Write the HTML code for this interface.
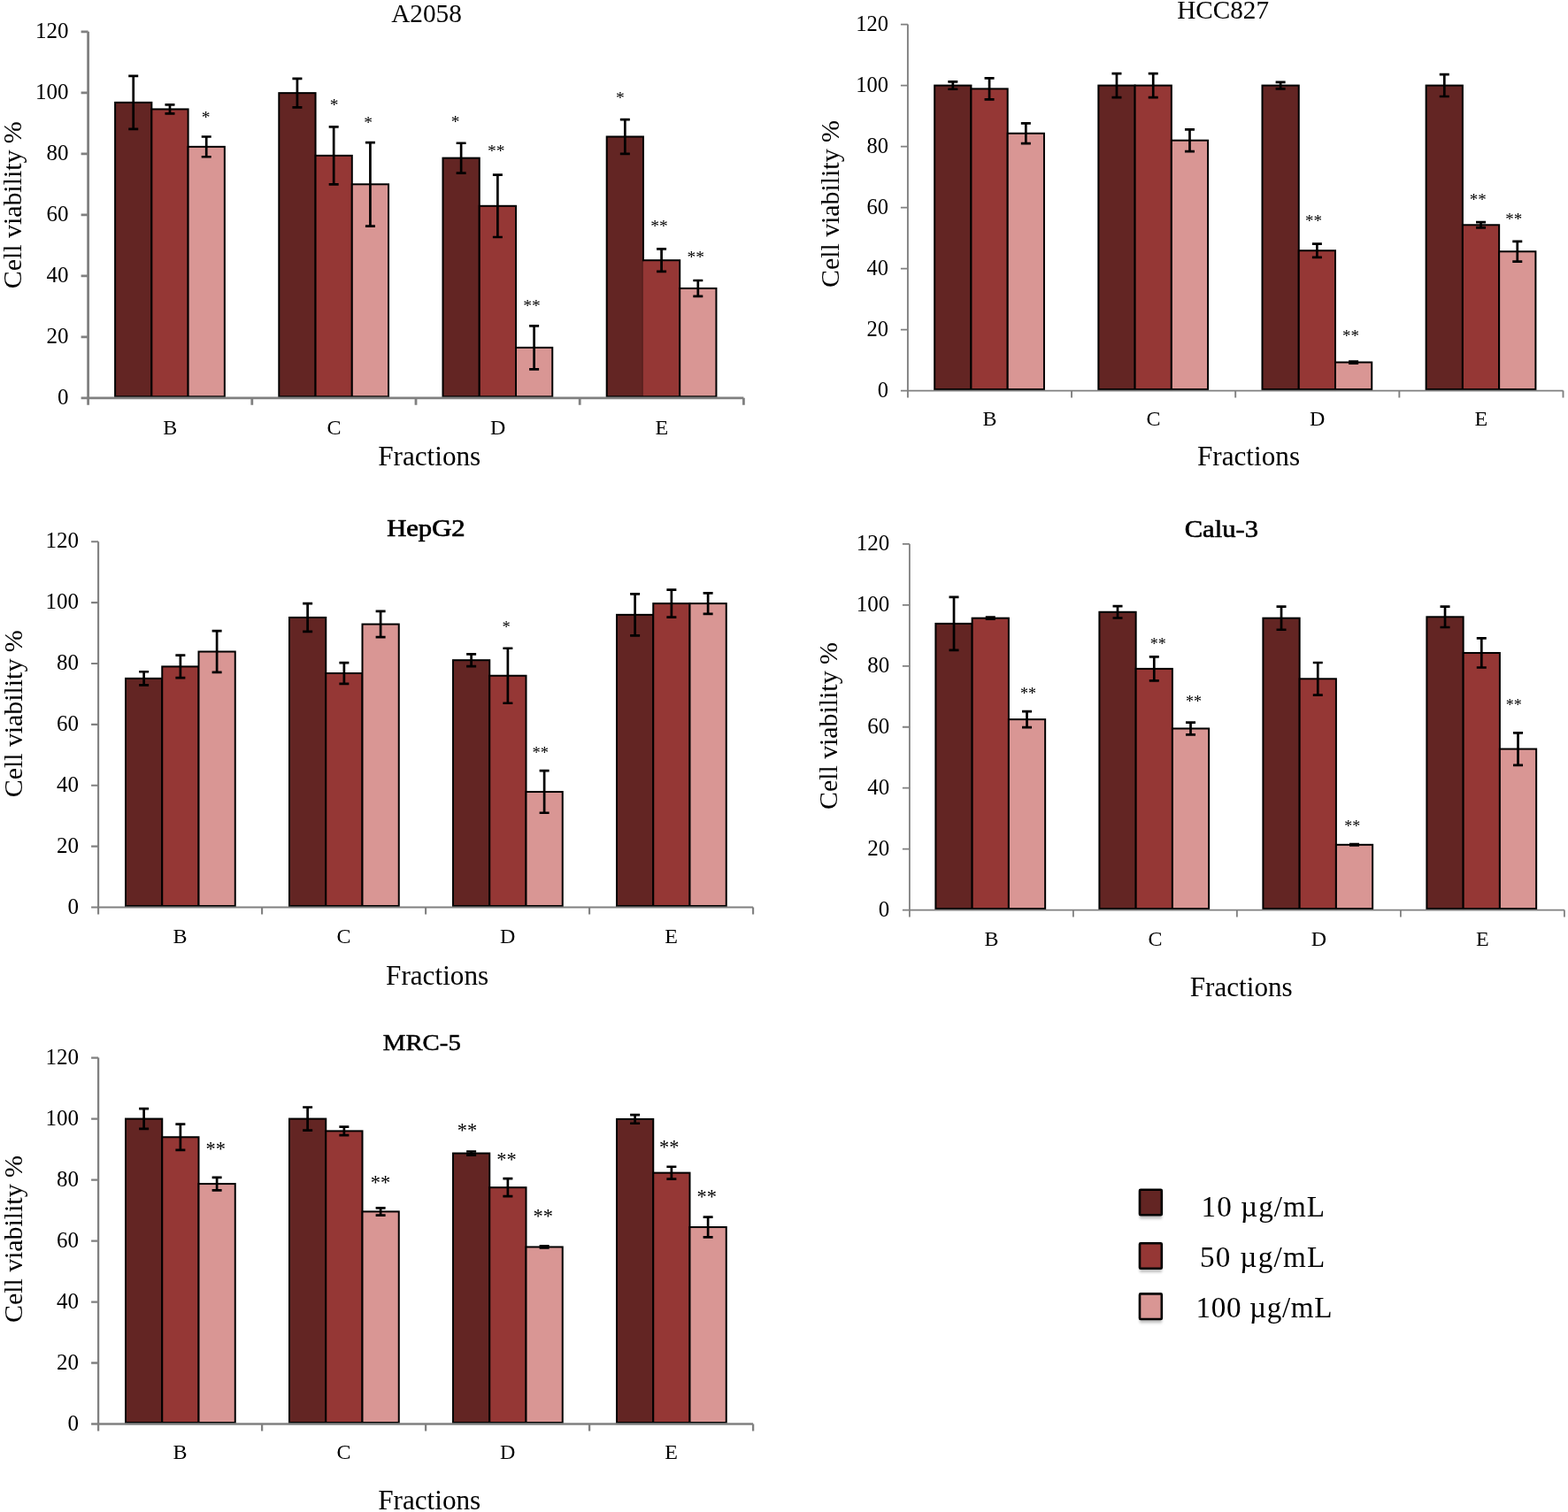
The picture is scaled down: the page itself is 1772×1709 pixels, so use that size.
<!DOCTYPE html>
<html><head><meta charset="utf-8"><title>Cell viability</title>
<style>
html,body{margin:0;padding:0;background:#fff;}
body{width:1772px;height:1709px;overflow:hidden;}
svg{display:block;}
text{font-family:"Liberation Serif","DejaVu Serif",serif;}
</style></head>
<body>
<svg width="1772" height="1709" viewBox="0 0 1772 1709" font-family="'Liberation Serif', 'DejaVu Serif', serif" fill="#000">
<defs><filter id="sh" x="-20%" y="-20%" width="140%" height="140%"><feGaussianBlur stdDeviation="1.6"/></filter></defs>
<g>
<text x="442.2" y="25" font-size="29.5" textLength="79.65" lengthAdjust="spacingAndGlyphs">A2058</text>
<rect x="130.1" y="115.84" width="41.25" height="332.46" fill="#632523" stroke="#000" stroke-width="2"/>
<rect x="171.35" y="123.43" width="41.25" height="324.87" fill="#953735" stroke="#000" stroke-width="2"/>
<rect x="212.6" y="165.87" width="41.25" height="282.44" fill="#D99694" stroke="#000" stroke-width="2"/>
<rect x="315.3" y="105.14" width="41.25" height="343.16" fill="#632523" stroke="#000" stroke-width="2"/>
<rect x="356.55" y="175.87" width="41.25" height="272.43" fill="#953735" stroke="#000" stroke-width="2"/>
<rect x="397.8" y="208.3" width="41.25" height="240" fill="#D99694" stroke="#000" stroke-width="2"/>
<rect x="500.5" y="178.63" width="41.25" height="269.67" fill="#632523" stroke="#000" stroke-width="2"/>
<rect x="541.75" y="232.8" width="41.25" height="215.5" fill="#953735" stroke="#000" stroke-width="2"/>
<rect x="583" y="392.88" width="41.25" height="55.43" fill="#D99694" stroke="#000" stroke-width="2"/>
<rect x="685.7" y="154.48" width="41.25" height="293.82" fill="#632523" stroke="#000" stroke-width="2"/>
<rect x="726.95" y="294.21" width="41.25" height="154.09" fill="#953735" stroke="#000" stroke-width="2"/>
<rect x="768.2" y="325.94" width="41.25" height="122.36" fill="#D99694" stroke="#000" stroke-width="2"/>
<rect x="725.75" y="295.31" width="1.2" height="151.99" fill="#632523"/>
<rect x="726.95" y="295.31" width="1.2" height="151.99" fill="#953735"/>
<path d="M150.72 85.82V145.86M145.22 85.82H156.22M145.22 145.86H156.22" stroke="#000" stroke-width="2.7" fill="none"/>
<path d="M191.97 118.43V128.43M186.47 118.43H197.47M186.47 128.43H197.47" stroke="#000" stroke-width="2.7" fill="none"/>
<path d="M233.22 154.48V177.25M227.72 154.48H238.72M227.72 177.25H238.72" stroke="#000" stroke-width="2.7" fill="none"/>
<path d="M335.92 88.93V121.36M330.42 88.93H341.42M330.42 121.36H341.42" stroke="#000" stroke-width="2.7" fill="none"/>
<path d="M377.17 143.44V208.3M371.67 143.44H382.67M371.67 208.3H382.67" stroke="#000" stroke-width="2.7" fill="none"/>
<path d="M418.42 161.03V255.56M412.92 161.03H423.92M412.92 255.56H423.92" stroke="#000" stroke-width="2.7" fill="none"/>
<path d="M521.12 161.73V195.54M515.62 161.73H526.62M515.62 195.54H526.62" stroke="#000" stroke-width="2.7" fill="none"/>
<path d="M562.38 197.61V267.99M556.88 197.61H567.88M556.88 267.99H567.88" stroke="#000" stroke-width="2.7" fill="none"/>
<path d="M603.62 368.38V417.37M598.12 368.38H609.12M598.12 417.37H609.12" stroke="#000" stroke-width="2.7" fill="none"/>
<path d="M706.32 135.16V173.8M700.82 135.16H711.82M700.82 173.8H711.82" stroke="#000" stroke-width="2.7" fill="none"/>
<path d="M747.57 281.44V306.97M742.07 281.44H753.07M742.07 306.97H753.07" stroke="#000" stroke-width="2.7" fill="none"/>
<path d="M788.82 316.98V334.92M783.32 316.98H794.32M783.32 334.92H794.32" stroke="#000" stroke-width="2.7" fill="none"/>
<path d="M99.6 35.8V457.8M91.6 449.8H840.4M91.6 380.8H99.6M91.6 311.8H99.6M91.6 242.8H99.6M91.6 173.8H99.6M91.6 104.8H99.6M91.6 35.8H99.6M284.8 449.8V457.8M470 449.8V457.8M655.2 449.8V457.8M840.4 449.8V457.8" stroke="#808080" stroke-width="2.8" fill="none"/>
<text x="77.4" y="457.05" font-size="25" text-anchor="end">0</text>
<text x="77.4" y="388.05" font-size="25" text-anchor="end">20</text>
<text x="77.4" y="319.05" font-size="25" text-anchor="end">40</text>
<text x="77.4" y="250.05" font-size="25" text-anchor="end">60</text>
<text x="77.4" y="181.05" font-size="25" text-anchor="end">80</text>
<text x="77.4" y="112.05" font-size="25" text-anchor="end">100</text>
<text x="77.4" y="43.05" font-size="25" text-anchor="end">120</text>
<text x="192.2" y="491" font-size="24" text-anchor="middle">B</text>
<text x="377.4" y="491" font-size="24" text-anchor="middle">C</text>
<text x="562.6" y="491" font-size="24" text-anchor="middle">D</text>
<text x="747.8" y="491" font-size="24" text-anchor="middle">E</text>
<text x="485.2" y="526.3" font-size="31.2" text-anchor="middle">Fractions</text>
<text transform="translate(23.5 326.2) rotate(-90)" font-size="30" textLength="189" lengthAdjust="spacing">Cell viability %</text>
<text x="232.5" y="139.25" font-size="19.5" text-anchor="middle">*</text>
<text x="377.5" y="125.25" font-size="19.5" text-anchor="middle">*</text>
<text x="416" y="145.25" font-size="19.5" text-anchor="middle">*</text>
<text x="514.5" y="143.5" font-size="19.5" text-anchor="middle">*</text>
<text x="560.75" y="177.25" font-size="19.5" text-anchor="middle">**</text>
<text x="601" y="351.5" font-size="19.5" text-anchor="middle">**</text>
<text x="700.75" y="116.5" font-size="19.5" text-anchor="middle">*</text>
<text x="745" y="261.75" font-size="19.5" text-anchor="middle">**</text>
<text x="786.25" y="297.25" font-size="19.5" text-anchor="middle">**</text>
</g>
<g>
<text x="1330.2" y="21.3" font-size="28.8" textLength="103.9" lengthAdjust="spacingAndGlyphs">HCC827</text>
<rect x="1056.2" y="96.6" width="41.25" height="343.5" fill="#632523" stroke="#000" stroke-width="2"/>
<rect x="1097.45" y="100.39" width="41.25" height="339.71" fill="#953735" stroke="#000" stroke-width="2"/>
<rect x="1138.7" y="150.77" width="41.25" height="289.33" fill="#D99694" stroke="#000" stroke-width="2"/>
<rect x="1241.35" y="96.6" width="41.25" height="343.5" fill="#632523" stroke="#000" stroke-width="2"/>
<rect x="1282.6" y="96.6" width="41.25" height="343.5" fill="#953735" stroke="#000" stroke-width="2"/>
<rect x="1323.85" y="158.7" width="41.25" height="281.4" fill="#D99694" stroke="#000" stroke-width="2"/>
<rect x="1426.5" y="96.6" width="41.25" height="343.5" fill="#632523" stroke="#000" stroke-width="2"/>
<rect x="1467.75" y="283.25" width="41.25" height="156.86" fill="#953735" stroke="#000" stroke-width="2"/>
<rect x="1509" y="409.52" width="41.25" height="30.58" fill="#D99694" stroke="#000" stroke-width="2"/>
<rect x="1611.65" y="96.6" width="41.25" height="343.5" fill="#632523" stroke="#000" stroke-width="2"/>
<rect x="1652.9" y="254.27" width="41.25" height="185.84" fill="#953735" stroke="#000" stroke-width="2"/>
<rect x="1694.15" y="284.28" width="41.25" height="155.82" fill="#D99694" stroke="#000" stroke-width="2"/>
<path d="M1076.83 92.46V100.74M1071.33 92.46H1082.33M1071.33 100.74H1082.33" stroke="#000" stroke-width="2.7" fill="none"/>
<path d="M1118.08 88.32V112.47M1112.58 88.32H1123.58M1112.58 112.47H1123.58" stroke="#000" stroke-width="2.7" fill="none"/>
<path d="M1159.33 139.38V162.15M1153.83 139.38H1164.83M1153.83 162.15H1164.83" stroke="#000" stroke-width="2.7" fill="none"/>
<path d="M1261.98 83.14V110.06M1256.48 83.14H1267.48M1256.48 110.06H1267.48" stroke="#000" stroke-width="2.7" fill="none"/>
<path d="M1303.23 83.14V110.06M1297.73 83.14H1308.73M1297.73 110.06H1308.73" stroke="#000" stroke-width="2.7" fill="none"/>
<path d="M1344.48 146.28V171.12M1338.98 146.28H1349.98M1338.98 171.12H1349.98" stroke="#000" stroke-width="2.7" fill="none"/>
<path d="M1447.12 92.81V100.39M1441.62 92.81H1452.62M1441.62 100.39H1452.62" stroke="#000" stroke-width="2.7" fill="none"/>
<path d="M1488.38 275.65V290.84M1482.88 275.65H1493.88M1482.88 290.84H1493.88" stroke="#000" stroke-width="2.7" fill="none"/>
<path d="M1529.62 408.48V410.55M1524.12 408.48H1535.12M1524.12 410.55H1535.12" stroke="#000" stroke-width="2.7" fill="none"/>
<path d="M1632.28 84.18V109.02M1626.78 84.18H1637.78M1626.78 109.02H1637.78" stroke="#000" stroke-width="2.7" fill="none"/>
<path d="M1673.53 251.16V257.37M1668.03 251.16H1679.03M1668.03 257.37H1679.03" stroke="#000" stroke-width="2.7" fill="none"/>
<path d="M1714.78 272.89V295.66M1709.28 272.89H1720.28M1709.28 295.66H1720.28" stroke="#000" stroke-width="2.7" fill="none"/>
<path d="M1025.9 27.6V449.6M1017.9 441.6H1766.5M1017.9 372.6H1025.9M1017.9 303.6H1025.9M1017.9 234.6H1025.9M1017.9 165.6H1025.9M1017.9 96.6H1025.9M1017.9 27.6H1025.9M1211.05 441.6V449.6M1396.2 441.6V449.6M1581.35 441.6V449.6M1766.5 441.6V449.6" stroke="#808080" stroke-width="1.9" fill="none"/>
<text x="1003.9" y="448.68" font-size="24.5" text-anchor="end">0</text>
<text x="1003.9" y="379.68" font-size="24.5" text-anchor="end">20</text>
<text x="1003.9" y="310.68" font-size="24.5" text-anchor="end">40</text>
<text x="1003.9" y="241.68" font-size="24.5" text-anchor="end">60</text>
<text x="1003.9" y="172.68" font-size="24.5" text-anchor="end">80</text>
<text x="1003.9" y="103.68" font-size="24.5" text-anchor="end">100</text>
<text x="1003.9" y="34.68" font-size="24.5" text-anchor="end">120</text>
<text x="1118.48" y="481.3" font-size="24" text-anchor="middle">B</text>
<text x="1303.62" y="481.3" font-size="24" text-anchor="middle">C</text>
<text x="1488.78" y="481.3" font-size="24" text-anchor="middle">D</text>
<text x="1673.93" y="481.3" font-size="24" text-anchor="middle">E</text>
<text x="1411" y="526.3" font-size="31.2" text-anchor="middle">Fractions</text>
<text transform="translate(947.5 325) rotate(-90)" font-size="30" textLength="189" lengthAdjust="spacing">Cell viability %</text>
<text x="1484.5" y="255.75" font-size="19" text-anchor="middle">**</text>
<text x="1526.5" y="385.75" font-size="19" text-anchor="middle">**</text>
<text x="1670.25" y="232" font-size="19" text-anchor="middle">**</text>
<text x="1710.75" y="253.75" font-size="19" text-anchor="middle">**</text>
</g>
<g>
<text x="437.2" y="606.3" font-size="26.8" stroke="#000" stroke-width="0.7" textLength="88.4" lengthAdjust="spacingAndGlyphs">HepG2</text>
<rect x="142" y="766.84" width="41.25" height="257.16" fill="#632523" stroke="#000" stroke-width="2"/>
<rect x="183.25" y="753.41" width="41.25" height="270.59" fill="#953735" stroke="#000" stroke-width="2"/>
<rect x="224.5" y="736.53" width="41.25" height="287.47" fill="#D99694" stroke="#000" stroke-width="2"/>
<rect x="327" y="697.96" width="41.25" height="326.04" fill="#632523" stroke="#000" stroke-width="2"/>
<rect x="368.25" y="760.99" width="41.25" height="263.01" fill="#953735" stroke="#000" stroke-width="2"/>
<rect x="409.5" y="705.54" width="41.25" height="318.46" fill="#D99694" stroke="#000" stroke-width="2"/>
<rect x="512" y="746.18" width="41.25" height="277.82" fill="#632523" stroke="#000" stroke-width="2"/>
<rect x="553.25" y="763.74" width="41.25" height="260.26" fill="#953735" stroke="#000" stroke-width="2"/>
<rect x="594.5" y="894.97" width="41.25" height="129.03" fill="#D99694" stroke="#000" stroke-width="2"/>
<rect x="697" y="694.86" width="41.25" height="329.14" fill="#632523" stroke="#000" stroke-width="2"/>
<rect x="738.25" y="682.12" width="41.25" height="341.88" fill="#953735" stroke="#000" stroke-width="2"/>
<rect x="779.5" y="682.12" width="41.25" height="341.88" fill="#D99694" stroke="#000" stroke-width="2"/>
<path d="M162.62 759.27V774.42M157.12 759.27H168.12M157.12 774.42H168.12" stroke="#000" stroke-width="2.7" fill="none"/>
<path d="M203.88 740.67V766.15M198.38 740.67H209.38M198.38 766.15H209.38" stroke="#000" stroke-width="2.7" fill="none"/>
<path d="M245.12 713.11V759.95M239.62 713.11H250.62M239.62 759.95H250.62" stroke="#000" stroke-width="2.7" fill="none"/>
<path d="M347.62 682.12V713.8M342.12 682.12H353.12M342.12 713.8H353.12" stroke="#000" stroke-width="2.7" fill="none"/>
<path d="M388.88 749.11V772.87M383.38 749.11H394.38M383.38 772.87H394.38" stroke="#000" stroke-width="2.7" fill="none"/>
<path d="M430.12 690.9V720.17M424.62 690.9H435.62M424.62 720.17H435.62" stroke="#000" stroke-width="2.7" fill="none"/>
<path d="M532.62 739.29V753.07M527.12 739.29H538.12M527.12 753.07H538.12" stroke="#000" stroke-width="2.7" fill="none"/>
<path d="M573.88 732.75V794.74M568.38 732.75H579.38M568.38 794.74H579.38" stroke="#000" stroke-width="2.7" fill="none"/>
<path d="M615.12 871.2V918.73M609.62 871.2H620.62M609.62 918.73H620.62" stroke="#000" stroke-width="2.7" fill="none"/>
<path d="M717.62 671.44V718.28M712.12 671.44H723.12M712.12 718.28H723.12" stroke="#000" stroke-width="2.7" fill="none"/>
<path d="M758.88 666.62V697.62M753.38 666.62H764.38M753.38 697.62H764.38" stroke="#000" stroke-width="2.7" fill="none"/>
<path d="M800.12 670.41V693.83M794.62 670.41H805.62M794.62 693.83H805.62" stroke="#000" stroke-width="2.7" fill="none"/>
<path d="M111.1 612.2V1033.5M103.1 1025.5H851.1M103.1 956.62H111.1M103.1 887.73H111.1M103.1 818.85H111.1M103.1 749.97H111.1M103.1 681.08H111.1M103.1 612.2H111.1M296.1 1025.5V1033.5M481.1 1025.5V1033.5M666.1 1025.5V1033.5M851.1 1025.5V1033.5" stroke="#808080" stroke-width="2.1" fill="none"/>
<text x="89.1" y="1032.75" font-size="25" text-anchor="end">0</text>
<text x="89.1" y="963.87" font-size="25" text-anchor="end">20</text>
<text x="89.1" y="894.98" font-size="25" text-anchor="end">40</text>
<text x="89.1" y="826.1" font-size="25" text-anchor="end">60</text>
<text x="89.1" y="757.22" font-size="25" text-anchor="end">80</text>
<text x="89.1" y="688.33" font-size="25" text-anchor="end">100</text>
<text x="89.1" y="619.45" font-size="25" text-anchor="end">120</text>
<text x="203.6" y="1066.3" font-size="24" text-anchor="middle">B</text>
<text x="388.6" y="1066.3" font-size="24" text-anchor="middle">C</text>
<text x="573.6" y="1066.3" font-size="24" text-anchor="middle">D</text>
<text x="758.6" y="1066.3" font-size="24" text-anchor="middle">E</text>
<text x="494.1" y="1112.5" font-size="31.2" text-anchor="middle">Fractions</text>
<text transform="translate(25 901.25) rotate(-90)" font-size="30" textLength="189" lengthAdjust="spacing">Cell viability %</text>
<text x="572" y="715" font-size="18.5" text-anchor="middle">*</text>
<text x="610.75" y="856.75" font-size="18.5" text-anchor="middle">**</text>
</g>
<g>
<text x="1338.7" y="607" font-size="26.8" stroke="#000" stroke-width="0.55" textLength="83.4" lengthAdjust="spacingAndGlyphs">Calu-3</text>
<rect x="1057.4" y="704.88" width="41.25" height="322.22" fill="#632523" stroke="#000" stroke-width="2"/>
<rect x="1098.65" y="698.67" width="41.25" height="328.43" fill="#953735" stroke="#000" stroke-width="2"/>
<rect x="1139.9" y="813.13" width="41.25" height="213.97" fill="#D99694" stroke="#000" stroke-width="2"/>
<rect x="1242.4" y="691.78" width="41.25" height="335.32" fill="#632523" stroke="#000" stroke-width="2"/>
<rect x="1283.65" y="755.9" width="41.25" height="271.2" fill="#953735" stroke="#000" stroke-width="2"/>
<rect x="1324.9" y="823.47" width="41.25" height="203.63" fill="#D99694" stroke="#000" stroke-width="2"/>
<rect x="1427.4" y="698.67" width="41.25" height="328.43" fill="#632523" stroke="#000" stroke-width="2"/>
<rect x="1468.65" y="767.28" width="41.25" height="259.82" fill="#953735" stroke="#000" stroke-width="2"/>
<rect x="1509.9" y="954.82" width="41.25" height="72.28" fill="#D99694" stroke="#000" stroke-width="2"/>
<rect x="1612.4" y="697.3" width="41.25" height="329.8" fill="#632523" stroke="#000" stroke-width="2"/>
<rect x="1653.65" y="737.98" width="41.25" height="289.12" fill="#953735" stroke="#000" stroke-width="2"/>
<rect x="1694.9" y="846.57" width="41.25" height="180.53" fill="#D99694" stroke="#000" stroke-width="2"/>
<path d="M1078.03 674.89V734.87M1072.53 674.89H1083.53M1072.53 734.87H1083.53" stroke="#000" stroke-width="2.7" fill="none"/>
<path d="M1119.28 697.64V699.71M1113.78 697.64H1124.78M1113.78 699.71H1124.78" stroke="#000" stroke-width="2.7" fill="none"/>
<path d="M1160.53 804.17V822.09M1155.03 804.17H1166.03M1155.03 822.09H1166.03" stroke="#000" stroke-width="2.7" fill="none"/>
<path d="M1263.03 685.06V698.5M1257.53 685.06H1268.53M1257.53 698.5H1268.53" stroke="#000" stroke-width="2.7" fill="none"/>
<path d="M1304.28 742.46V769.35M1298.78 742.46H1309.78M1298.78 769.35H1309.78" stroke="#000" stroke-width="2.7" fill="none"/>
<path d="M1345.53 816.58V830.37M1340.03 816.58H1351.03M1340.03 830.37H1351.03" stroke="#000" stroke-width="2.7" fill="none"/>
<path d="M1448.03 685.57V711.77M1442.53 685.57H1453.53M1442.53 711.77H1453.53" stroke="#000" stroke-width="2.7" fill="none"/>
<path d="M1489.28 749.01V785.55M1483.78 749.01H1494.78M1483.78 785.55H1494.78" stroke="#000" stroke-width="2.7" fill="none"/>
<path d="M1530.53 954.13V955.51M1525.03 954.13H1536.03M1525.03 955.51H1536.03" stroke="#000" stroke-width="2.7" fill="none"/>
<path d="M1633.03 685.57V709.02M1627.53 685.57H1638.53M1627.53 709.02H1638.53" stroke="#000" stroke-width="2.7" fill="none"/>
<path d="M1674.28 721.43V754.52M1668.78 721.43H1679.78M1668.78 754.52H1679.78" stroke="#000" stroke-width="2.7" fill="none"/>
<path d="M1715.53 828.3V864.84M1710.03 828.3H1721.03M1710.03 864.84H1721.03" stroke="#000" stroke-width="2.7" fill="none"/>
<path d="M1027.9 614.9V1036.6M1019.9 1028.6H1767.9M1019.9 959.65H1027.9M1019.9 890.7H1027.9M1019.9 821.75H1027.9M1019.9 752.8H1027.9M1019.9 683.85H1027.9M1019.9 614.9H1027.9M1212.9 1028.6V1036.6M1397.9 1028.6V1036.6M1582.9 1028.6V1036.6M1767.9 1028.6V1036.6" stroke="#808080" stroke-width="1.8" fill="none"/>
<text x="1005.3" y="1035.85" font-size="25" text-anchor="end">0</text>
<text x="1005.3" y="966.9" font-size="25" text-anchor="end">20</text>
<text x="1005.3" y="897.95" font-size="25" text-anchor="end">40</text>
<text x="1005.3" y="829" font-size="25" text-anchor="end">60</text>
<text x="1005.3" y="760.05" font-size="25" text-anchor="end">80</text>
<text x="1005.3" y="691.1" font-size="25" text-anchor="end">100</text>
<text x="1005.3" y="622.15" font-size="25" text-anchor="end">120</text>
<text x="1120.4" y="1068.8" font-size="24" text-anchor="middle">B</text>
<text x="1305.4" y="1068.8" font-size="24" text-anchor="middle">C</text>
<text x="1490.4" y="1068.8" font-size="24" text-anchor="middle">D</text>
<text x="1675.4" y="1068.8" font-size="24" text-anchor="middle">E</text>
<text x="1402.7" y="1126.3" font-size="31.2" text-anchor="middle">Fractions</text>
<text transform="translate(946.25 915) rotate(-90)" font-size="30" textLength="189" lengthAdjust="spacing">Cell viability %</text>
<text x="1162" y="790.25" font-size="18" text-anchor="middle">**</text>
<text x="1308.75" y="733.5" font-size="18" text-anchor="middle">**</text>
<text x="1349" y="799" font-size="18" text-anchor="middle">**</text>
<text x="1528.25" y="940.25" font-size="18" text-anchor="middle">**</text>
<text x="1710.75" y="803.25" font-size="18" text-anchor="middle">**</text>
</g>
<g>
<text x="432.8" y="1187.2" font-size="25.6" stroke="#000" stroke-width="0.5" textLength="88" lengthAdjust="spacingAndGlyphs">MRC-5</text>
<rect x="142" y="1264.58" width="41.25" height="343.42" fill="#632523" stroke="#000" stroke-width="2"/>
<rect x="183.25" y="1285.28" width="41.25" height="322.72" fill="#953735" stroke="#000" stroke-width="2"/>
<rect x="224.5" y="1338.05" width="41.25" height="269.95" fill="#D99694" stroke="#000" stroke-width="2"/>
<rect x="327" y="1264.58" width="41.25" height="343.42" fill="#632523" stroke="#000" stroke-width="2"/>
<rect x="368.25" y="1278.38" width="41.25" height="329.62" fill="#953735" stroke="#000" stroke-width="2"/>
<rect x="409.5" y="1369.44" width="41.25" height="238.56" fill="#D99694" stroke="#000" stroke-width="2"/>
<rect x="512" y="1303.56" width="41.25" height="304.44" fill="#632523" stroke="#000" stroke-width="2"/>
<rect x="553.25" y="1342.19" width="41.25" height="265.81" fill="#953735" stroke="#000" stroke-width="2"/>
<rect x="594.5" y="1409.45" width="41.25" height="198.55" fill="#D99694" stroke="#000" stroke-width="2"/>
<rect x="697" y="1264.93" width="41.25" height="343.07" fill="#632523" stroke="#000" stroke-width="2"/>
<rect x="738.25" y="1325.63" width="41.25" height="282.37" fill="#953735" stroke="#000" stroke-width="2"/>
<rect x="779.5" y="1387.03" width="41.25" height="220.97" fill="#D99694" stroke="#000" stroke-width="2"/>
<path d="M162.62 1253.2V1275.97M157.12 1253.2H168.12M157.12 1275.97H168.12" stroke="#000" stroke-width="2.7" fill="none"/>
<path d="M203.88 1270.62V1299.94M198.38 1270.62H209.38M198.38 1299.94H209.38" stroke="#000" stroke-width="2.7" fill="none"/>
<path d="M245.12 1330.81V1345.29M239.62 1330.81H250.62M239.62 1345.29H250.62" stroke="#000" stroke-width="2.7" fill="none"/>
<path d="M347.62 1251.48V1277.69M342.12 1251.48H353.12M342.12 1277.69H353.12" stroke="#000" stroke-width="2.7" fill="none"/>
<path d="M388.88 1273.55V1283.21M383.38 1273.55H394.38M383.38 1283.21H394.38" stroke="#000" stroke-width="2.7" fill="none"/>
<path d="M430.12 1365.3V1373.58M424.62 1365.3H435.62M424.62 1373.58H435.62" stroke="#000" stroke-width="2.7" fill="none"/>
<path d="M532.62 1301.49V1305.63M527.12 1301.49H538.12M527.12 1305.63H538.12" stroke="#000" stroke-width="2.7" fill="none"/>
<path d="M573.88 1332.19V1352.19M568.38 1332.19H579.38M568.38 1352.19H579.38" stroke="#000" stroke-width="2.7" fill="none"/>
<path d="M615.12 1408.41V1410.48M609.62 1408.41H620.62M609.62 1410.48H620.62" stroke="#000" stroke-width="2.7" fill="none"/>
<path d="M717.62 1260.1V1269.76M712.12 1260.1H723.12M712.12 1269.76H723.12" stroke="#000" stroke-width="2.7" fill="none"/>
<path d="M758.88 1318.74V1332.53M753.38 1318.74H764.38M753.38 1332.53H764.38" stroke="#000" stroke-width="2.7" fill="none"/>
<path d="M800.12 1375.65V1398.41M794.62 1375.65H805.62M794.62 1398.41H805.62" stroke="#000" stroke-width="2.7" fill="none"/>
<path d="M111.1 1195.6V1617.5M103.1 1609.5H851.1M103.1 1540.52H111.1M103.1 1471.53H111.1M103.1 1402.55H111.1M103.1 1333.57H111.1M103.1 1264.58H111.1M103.1 1195.6H111.1M296.1 1609.5V1617.5M481.1 1609.5V1617.5M666.1 1609.5V1617.5M851.1 1609.5V1617.5" stroke="#808080" stroke-width="2.3" fill="none"/>
<text x="89.1" y="1616.75" font-size="25" text-anchor="end">0</text>
<text x="89.1" y="1547.77" font-size="25" text-anchor="end">20</text>
<text x="89.1" y="1478.78" font-size="25" text-anchor="end">40</text>
<text x="89.1" y="1409.8" font-size="25" text-anchor="end">60</text>
<text x="89.1" y="1340.82" font-size="25" text-anchor="end">80</text>
<text x="89.1" y="1271.83" font-size="25" text-anchor="end">100</text>
<text x="89.1" y="1202.85" font-size="25" text-anchor="end">120</text>
<text x="203.6" y="1648.8" font-size="24" text-anchor="middle">B</text>
<text x="388.6" y="1648.8" font-size="24" text-anchor="middle">C</text>
<text x="573.6" y="1648.8" font-size="24" text-anchor="middle">D</text>
<text x="758.6" y="1648.8" font-size="24" text-anchor="middle">E</text>
<text x="485.2" y="1706.3" font-size="31.2" text-anchor="middle">Fractions</text>
<text transform="translate(25 1495) rotate(-90)" font-size="30" textLength="189" lengthAdjust="spacing">Cell viability %</text>
<text x="243.75" y="1305.7" font-size="22.4" text-anchor="middle">**</text>
<text x="430" y="1343.7" font-size="22.4" text-anchor="middle">**</text>
<text x="528" y="1285.45" font-size="22.4" text-anchor="middle">**</text>
<text x="572.5" y="1317.95" font-size="22.4" text-anchor="middle">**</text>
<text x="613.75" y="1382.45" font-size="22.4" text-anchor="middle">**</text>
<text x="756.25" y="1303.7" font-size="22.4" text-anchor="middle">**</text>
<text x="798.75" y="1359.95" font-size="22.4" text-anchor="middle">**</text>
</g>
<rect x="1288" y="1348.5" width="25" height="29" fill="#8a8a8a" opacity="0.55" filter="url(#sh)"/>
<rect x="1288" y="1344.7" width="24.8" height="28.6" rx="1" fill="#632523" stroke="#000" stroke-width="2.6"/>
<text x="1357.6" y="1375.3" font-size="33.2" textLength="139.5" lengthAdjust="spacing">10 µg/mL</text>
<rect x="1288" y="1409" width="25" height="29" fill="#8a8a8a" opacity="0.55" filter="url(#sh)"/>
<rect x="1288" y="1405.2" width="24.8" height="28.6" rx="1" fill="#953735" stroke="#000" stroke-width="2.6"/>
<text x="1356" y="1432.3" font-size="33.2" textLength="141.4" lengthAdjust="spacing">50 µg/mL</text>
<rect x="1288" y="1466.2" width="25" height="29" fill="#8a8a8a" opacity="0.55" filter="url(#sh)"/>
<rect x="1288" y="1462.4" width="24.8" height="28.6" rx="1" fill="#D99694" stroke="#000" stroke-width="2.6"/>
<text x="1351.6" y="1489" font-size="33.2" textLength="153.9" lengthAdjust="spacing">100 µg/mL</text>
</svg>
</body></html>
